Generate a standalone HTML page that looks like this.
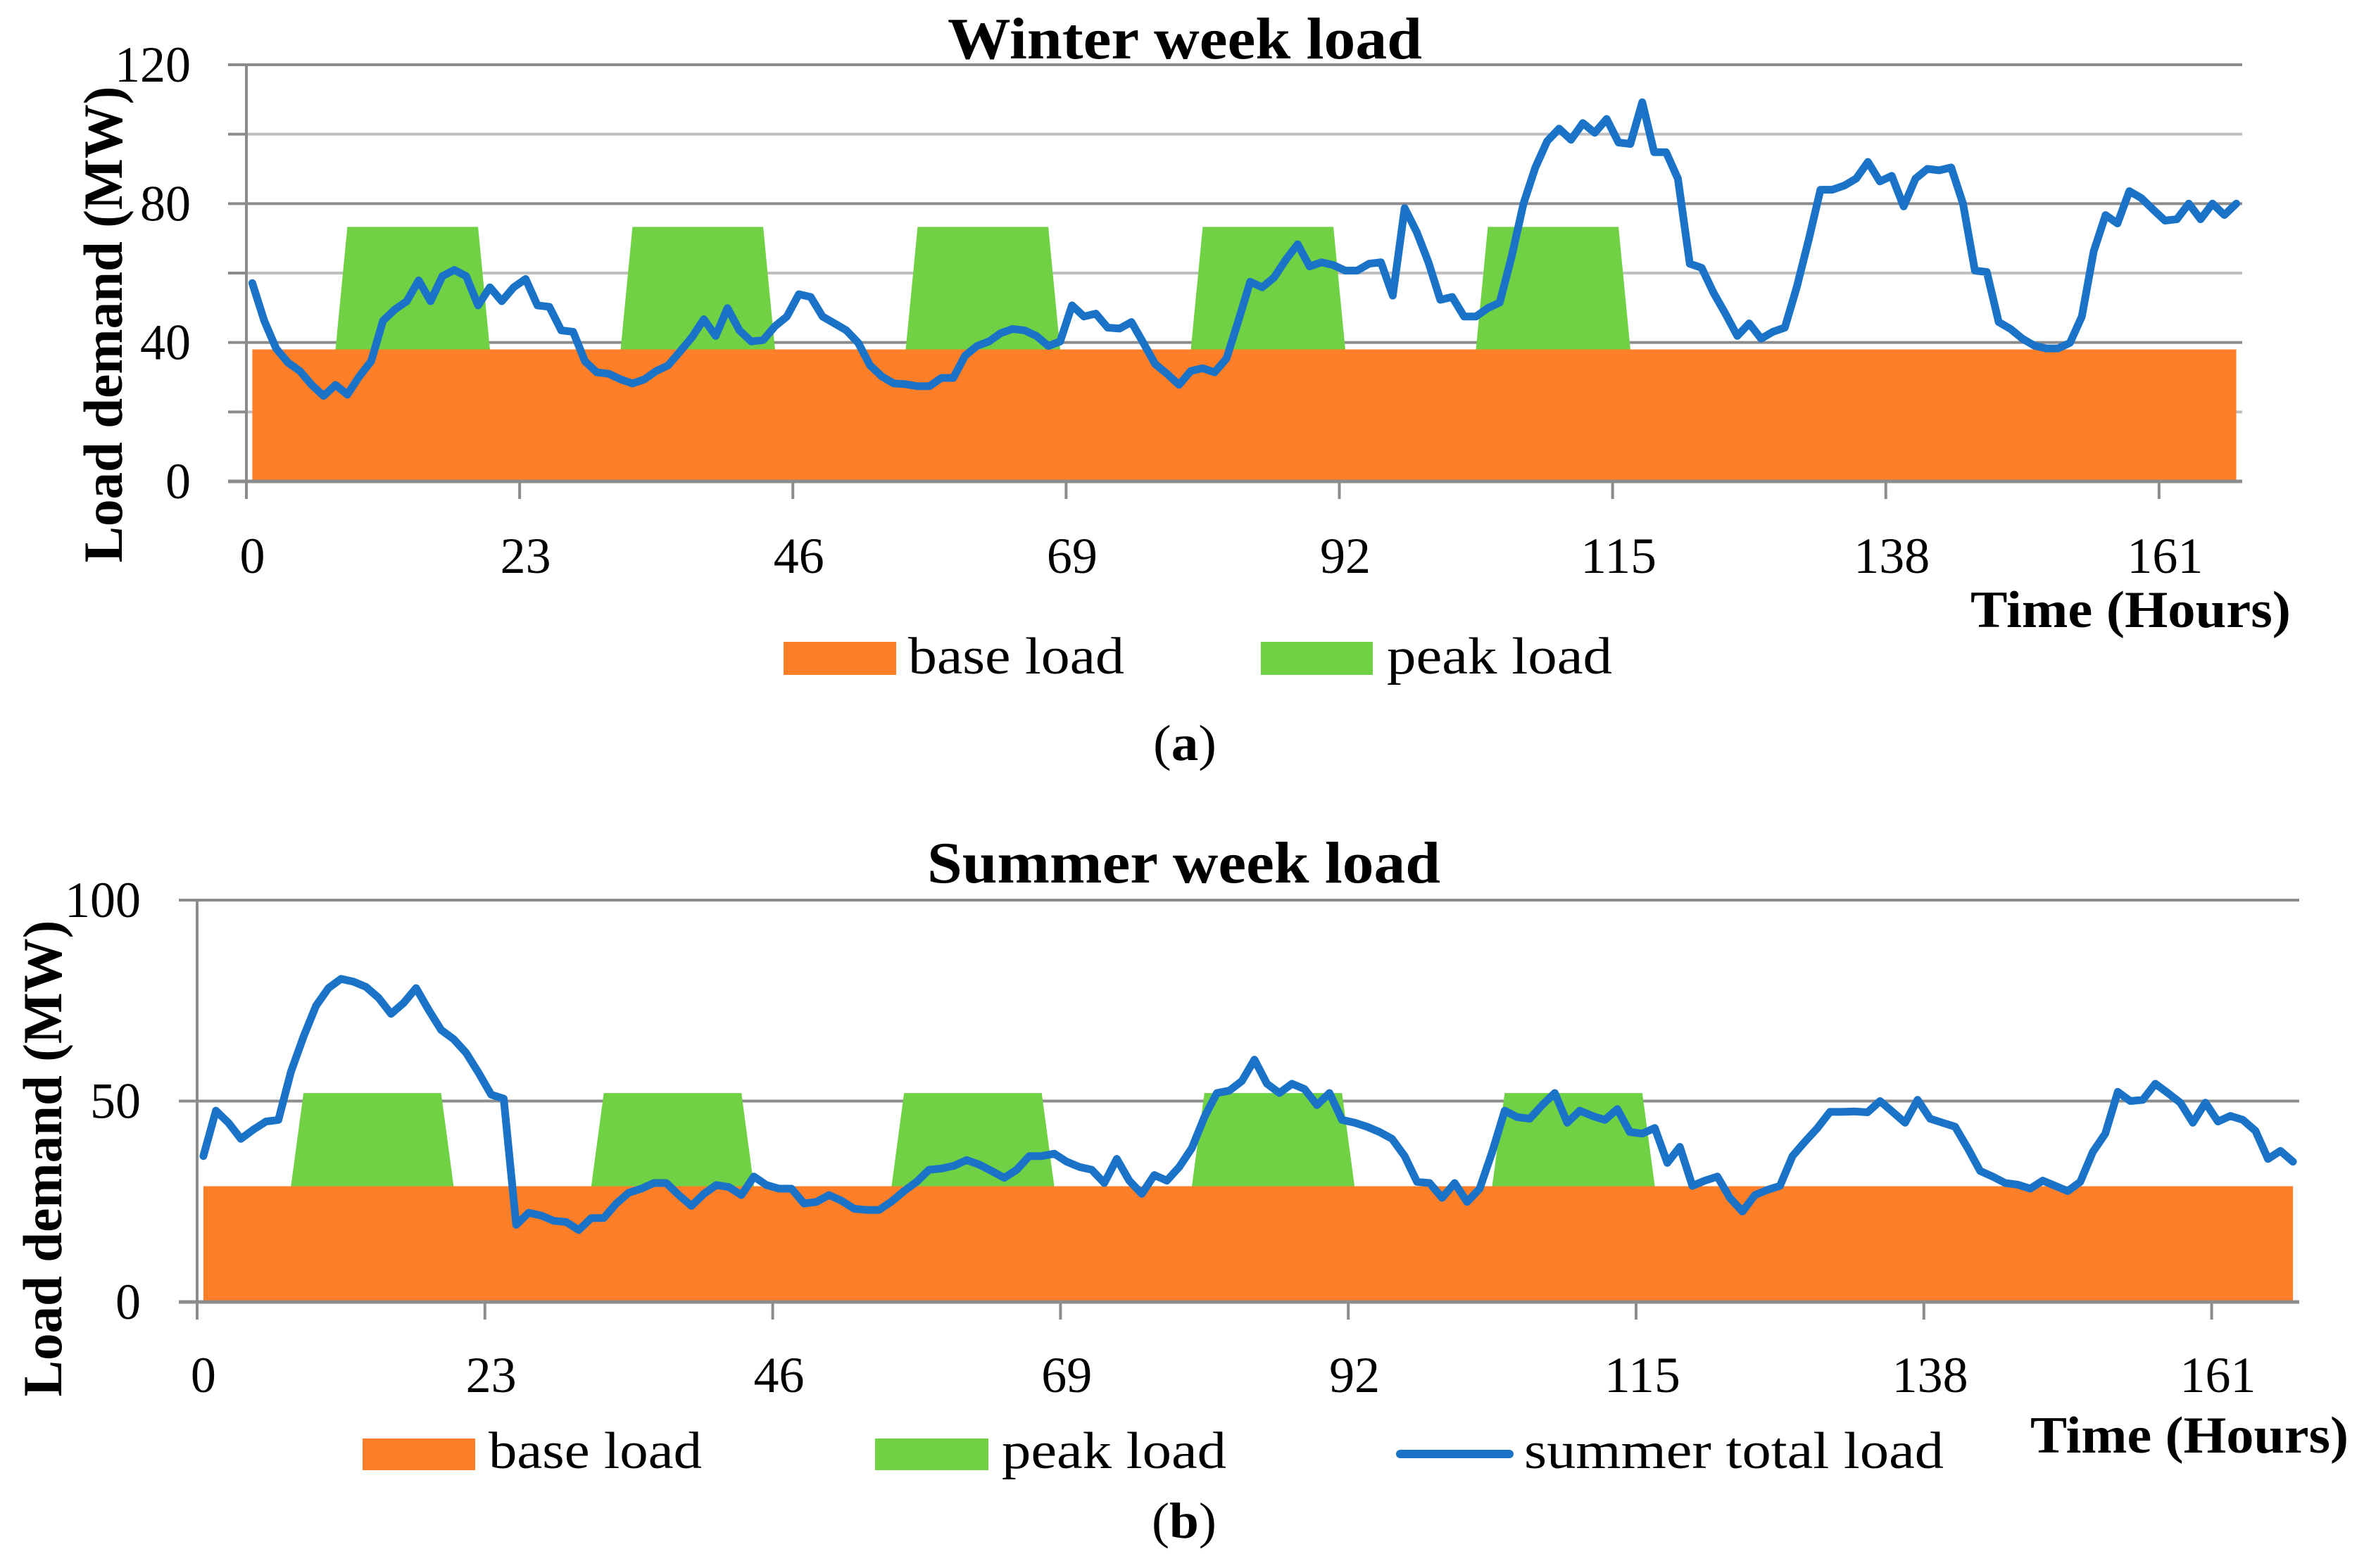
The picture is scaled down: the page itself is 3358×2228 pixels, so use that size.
<!DOCTYPE html>
<html><head><meta charset="utf-8">
<style>
html,body{margin:0;padding:0;background:#fff;}
svg{display:block;}
text{font-family:"Liberation Serif",serif;fill:#000;}
</style></head>
<body>
<svg id="fig" width="3358" height="2228" viewBox="0 0 3358 2228" xmlns="http://www.w3.org/2000/svg">
<rect x="0" y="0" width="3358" height="2228" fill="#fff"/>
<g id="chartA"></g>
<g id="chartB"></g>

<text x="1346" y="83" font-size="84" font-weight="bold" textLength="674" lengthAdjust="spacingAndGlyphs">Winter week load</text>
<text transform="translate(173,461) rotate(-90)" text-anchor="middle" font-size="78" font-weight="bold" textLength="677" lengthAdjust="spacingAndGlyphs">Load demand (MW)</text>
<text x="2799" y="891" font-size="74" font-weight="bold" textLength="455" lengthAdjust="spacingAndGlyphs">Time (Hours)</text>
<rect x="1113" y="912" width="160" height="47" fill="#fe7f28"/>
<text x="1290" y="957" font-size="74" textLength="307" lengthAdjust="spacingAndGlyphs">base load</text>
<rect x="1791" y="912" width="159" height="47" fill="#6fd143"/>
<text x="1970" y="957" font-size="74" textLength="320" lengthAdjust="spacingAndGlyphs">peak load</text>
<text x="1638" y="1080" font-size="72" textLength="90" lengthAdjust="spacingAndGlyphs">(<tspan font-weight="bold">a</tspan>)</text>

<text x="1317" y="1254" font-size="84" font-weight="bold" textLength="729" lengthAdjust="spacingAndGlyphs">Summer week load</text>
<text transform="translate(87,1646) rotate(-90)" text-anchor="middle" font-size="78" font-weight="bold" textLength="677" lengthAdjust="spacingAndGlyphs">Load demand (MW)</text>
<text x="2884" y="2064" font-size="74" font-weight="bold" textLength="452" lengthAdjust="spacingAndGlyphs">Time (Hours)</text>
<rect x="515" y="2044" width="160" height="45" fill="#fe7f28"/>
<text x="694" y="2086" font-size="74" textLength="303" lengthAdjust="spacingAndGlyphs">base load</text>
<rect x="1243" y="2044" width="161" height="45" fill="#6fd143"/>
<text x="1423" y="2086" font-size="74" textLength="319" lengthAdjust="spacingAndGlyphs">peak load</text>
<line x1="1989" y1="2066" x2="2144" y2="2066" stroke="#1a73c6" stroke-width="12" stroke-linecap="round"/>
<text x="2165" y="2086" font-size="74" textLength="596" lengthAdjust="spacingAndGlyphs">summer total load</text>
<text x="1636" y="2185" font-size="72" textLength="92" lengthAdjust="spacingAndGlyphs">(<tspan font-weight="bold">b</tspan>)</text>
</svg>
<script>
const xTickLabels = [0, 23, 46, 69, 92, 115, 138, 161];
const winterYTicks = [0, 40, 80, 120];
const winterMinorGrid = [20, 60, 100];
const summerYTicks = [0, 50, 100];
const winterBase = 38;
const summerBase = 28.8;
const winterPeak = [
0,0,0,0,0,0,0,0,35.3,35.3,35.3,35.3,35.3,35.3,35.3,35.3,35.3,35.3,35.3,35.3,0,0,0,0,
0,0,0,0,0,0,0,0,35.3,35.3,35.3,35.3,35.3,35.3,35.3,35.3,35.3,35.3,35.3,35.3,0,0,0,0,
0,0,0,0,0,0,0,0,35.3,35.3,35.3,35.3,35.3,35.3,35.3,35.3,35.3,35.3,35.3,35.3,0,0,0,0,
0,0,0,0,0,0,0,0,35.3,35.3,35.3,35.3,35.3,35.3,35.3,35.3,35.3,35.3,35.3,35.3,0,0,0,0,
0,0,0,0,0,0,0,0,35.3,35.3,35.3,35.3,35.3,35.3,35.3,35.3,35.3,35.3,35.3,35.3,0,0,0,0,
0,0,0,0,0,0,0,0,0,0,0,0,0,0,0,0,0,0,0,0,0,0,0,0,
0,0,0,0,0,0,0,0,0,0,0,0,0,0,0,0,0,0,0,0,0,0,0,0];
const summerPeak = [
0,0,0,0,0,0,0,0,23.2,23.2,23.2,23.2,23.2,23.2,23.2,23.2,23.2,23.2,23.2,23.2,0,0,0,0,
0,0,0,0,0,0,0,0,23.2,23.2,23.2,23.2,23.2,23.2,23.2,23.2,23.2,23.2,23.2,23.2,0,0,0,0,
0,0,0,0,0,0,0,0,23.2,23.2,23.2,23.2,23.2,23.2,23.2,23.2,23.2,23.2,23.2,23.2,0,0,0,0,
0,0,0,0,0,0,0,0,23.2,23.2,23.2,23.2,23.2,23.2,23.2,23.2,23.2,23.2,23.2,23.2,0,0,0,0,
0,0,0,0,0,0,0,0,23.2,23.2,23.2,23.2,23.2,23.2,23.2,23.2,23.2,23.2,23.2,23.2,0,0,0,0,
0,0,0,0,0,0,0,0,0,0,0,0,0,0,0,0,0,0,0,0,0,0,0,0,
0,0,0,0,0,0,0,0,0,0,0,0,0,0,0,0,0,0,0,0,0,0,0,0];
const winterTotal = [
57.1,46.3,38.3,34.2,31.8,27.8,24.6,27.8,25,30.2,34.6,46.3,49.5,51.9,57.9,51.9,59.1,60.9,59.1,50.7,55.9,51.9,55.9,58.3,
50.7,50.3,43.5,43.1,34.6,31.4,31,29.4,28.2,29.4,31.8,33.4,37.4,41.5,46.7,41.9,49.9,43.5,40.3,40.7,44.7,47.5,53.9,53.1,
47.5,45.5,43.5,39.9,33.4,30.2,28.2,28,27.4,27.4,29.8,29.8,36.2,39,40.3,42.7,43.9,43.5,41.9,39,40.3,50.7,47.5,48.3,
44.3,44,45.9,39.9,33.8,31,27.8,31.8,32.6,31.4,35.4,46.3,57.5,55.9,58.7,63.9,68.3,61.9,63.1,62.3,60.7,60.7,62.7,63.1,
53.5,78.7,71.9,63.1,52.3,53.1,47.5,47.5,49.9,51.5,64.7,80,90.4,98,101.6,98.4,103.2,100.4,104.4,97.6,97.2,109.2,94.8,94.8,
87.2,62.7,61.5,54.3,48.3,41.9,45.5,41.1,43.1,44.3,55.9,69.5,84,84,85.2,87.2,92,86.4,88,79.2,87.2,90,89.6,90.4,
80,60.7,60.3,45.9,43.9,41.1,39.1,38.3,38.3,39.9,47.5,66.3,76.7,74.3,83.6,81.6,78.3,75.1,75.5,80,75.5,80,76.7,80];
const summerTotal = [
36.3,47.6,44.6,40.6,42.9,44.9,45.3,57.3,66,73.7,78.1,80.4,79.7,78.4,75.7,71.7,74.4,78.1,72.7,67.7,65.4,62,57,51.6,
50.6,19.2,22.2,21.5,20.2,19.9,17.9,20.9,20.9,24.5,27.2,28.2,29.6,29.6,26.6,23.9,26.9,29.1,28.6,26.6,31.2,29.1,28.2,28.2,
24.5,24.9,26.6,25.2,23.2,22.9,22.9,25,27.6,29.9,32.9,33.2,33.9,35.3,34.2,32.6,30.9,32.9,36.3,36.3,36.9,34.9,33.6,32.9,
29.6,35.6,30.2,26.9,31.6,30.2,33.6,38.3,46,52,52.6,55,60.3,54.3,52,54.3,53,49,52,45.3,44.6,43.6,42.3,40.6,
36.3,29.9,29.6,25.9,29.6,24.9,28.2,37.3,47.6,46,45.6,49,52,44.6,47.6,46.3,45.3,48,42.3,41.9,43.3,34.6,38.6,28.9,
30.2,31.2,25.9,22.5,26.6,27.9,28.9,36.3,39.9,43.3,47.3,47.3,47.4,47.2,50,47.3,44.6,50.3,45.6,44.6,43.6,38.3,32.6,31.2,
29.6,29.2,28.2,30.2,28.9,27.6,29.9,37.3,41.9,52.3,50,50.3,54.3,52,49.6,44.6,49.6,44.9,46.3,45.3,42.6,35.6,37.6,34.9];

const NS = "http://www.w3.org/2000/svg";
function mk(parent, tag, attrs){ const e=document.createElementNS(NS,tag); for(const k in attrs) e.setAttribute(k,attrs[k]); parent.appendChild(e); return e; }

function drawChart(g, cfg){
  const n = cfg.total.length;
  const cw = (cfg.x1 - cfg.x0) / n;
  const xOf = i => cfg.x0 + (i + 0.5) * cw;
  const yOf = v => cfg.y0 - (v / cfg.yMax) * (cfg.y0 - cfg.yTop);
  cfg.minor.forEach(v => {
    const l = mk(g,'line',{x1:cfg.x0,x2:cfg.x1,y1:yOf(v),y2:yOf(v),stroke:'#bfbfbf','stroke-width':4});
    
    
    const t = mk(g,'line',{x1:cfg.x0-26,x2:cfg.x0,y1:yOf(v),y2:yOf(v),stroke:'#8c8c8c','stroke-width':4});
    
    
  });
  cfg.yTicks.forEach(v => {
    const l = mk(g,'line',{x1:cfg.x0-26,x2:cfg.x1,y1:yOf(v),y2:yOf(v),stroke:'#8c8c8c','stroke-width':4});
    
    
    const t = mk(g,'text',{x:cfg.yLabelX,y:yOf(v)+24,'text-anchor':'end','font-size':72,textLength:String(v).length*36,lengthAdjust:'spacingAndGlyphs'});
    t.textContent = v;
    
    
  });
  let d = `M${xOf(0)},${yOf(0)}`;
  cfg.total.forEach((_,i)=>{ d += ` L${xOf(i)},${yOf(cfg.base)}`; });
  d += ` L${xOf(n-1)},${yOf(0)} Z`;
  const base = mk(g,'path',{d:d,fill:'#fe7f28'});
  
  
  let p = `M${xOf(0)},${yOf(cfg.base)}`;
  cfg.peak.forEach((v,i)=>{ p += ` L${xOf(i)},${yOf(cfg.base+v)}`; });
  p += ` L${xOf(n-1)},${yOf(cfg.base)} Z`;
  const peak = mk(g,'path',{d:p,fill:'#6fd143'});
  
  
  const ax = mk(g,'line',{x1:cfg.x0,x2:cfg.x0,y1:cfg.yTop,y2:cfg.y0+25,stroke:'#8c8c8c','stroke-width':4});
  
  
  const bx = mk(g,'line',{x1:cfg.x0-26,x2:cfg.x1,y1:cfg.y0,y2:cfg.y0,stroke:'#8c8c8c','stroke-width':5});
  
  
  xTickLabels.forEach(h => {
    const tx = cfg.x0 + h * cw;
    const tk = mk(g,'line',{x1:tx,x2:tx,y1:cfg.y0,y2:cfg.y0+25,stroke:'#8c8c8c','stroke-width':4});
    
    
    const t = mk(g,'text',{x:xOf(h),y:cfg.xLabelY,'text-anchor':'middle','font-size':72,textLength:String(h).length*36,lengthAdjust:'spacingAndGlyphs'});
    t.textContent = h;
    
    
  });
  const pts = cfg.total.map((v,i)=>`${xOf(i).toFixed(1)},${yOf(v).toFixed(1)}`).join(' ');
  const line = mk(g,'polyline',{points:pts,fill:'none',stroke:'#1a73c6','stroke-width':11,'stroke-linejoin':'round','stroke-linecap':'round'});
  
  
}

drawChart(document.getElementById('chartA'), {x0:350,x1:3185,y0:684,yTop:92,yMax:120,yTicks:winterYTicks,minor:winterMinorGrid,yLabelX:271,xLabelY:814,base:winterBase,peak:winterPeak,total:winterTotal});
drawChart(document.getElementById('chartB'), {x0:280,x1:3266,y0:1850,yTop:1279,yMax:100,yTicks:summerYTicks,minor:[],yLabelX:200,xLabelY:1978,base:summerBase,peak:summerPeak,total:summerTotal});
</script>
</body></html>
